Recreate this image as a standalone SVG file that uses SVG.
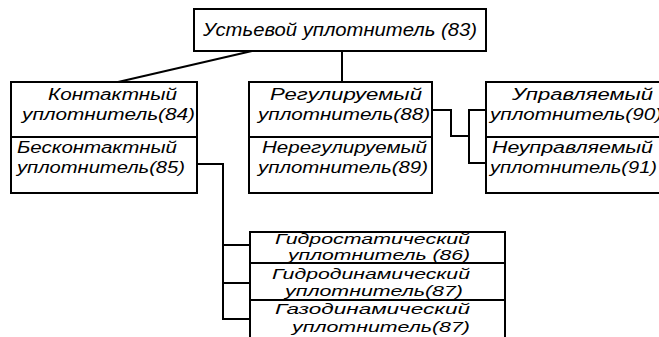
<svg xmlns="http://www.w3.org/2000/svg" width="659" height="337" viewBox="0 0 659 337">
<style>
.box{fill:#fff;stroke:#000;stroke-width:2}
.div{stroke:#000;stroke-width:2}
.con{fill:none;stroke:#000;stroke-width:2}
text{font-family:"Liberation Sans","DejaVu Sans",sans-serif;font-style:italic;font-size:16px;fill:#000}
.s{font-size:14px}
</style>
<rect width="659" height="337" fill="#fff"/>
<g id="connectors">
<line class="con" x1="252" y1="51" x2="118" y2="82"/>
<line class="con" x1="342" y1="51" x2="342" y2="82"/>
<polyline class="con" points="432,110 451,110 451,136 469,136"/>
<polyline class="con" points="486,110 469,110 469,163 486,163"/>
<polyline class="con" points="197,164 223,164 223,319 250,319"/>
<line class="con" x1="223" y1="245" x2="250" y2="245"/>
<line class="con" x1="223" y1="283" x2="250" y2="283"/>
</g>
<g id="n83">
<rect class="box" x="194" y="9" width="292" height="42"/>
<text x="203" y="36" style="font-size:18px" textLength="274" lengthAdjust="spacingAndGlyphs">Устьевой уплотнитель (83)</text>
</g>
<g id="n84">
<rect class="box" x="11" y="82" width="186" height="111"/>
<line class="div" x1="11" y1="137" x2="197" y2="137"/>
<text x="48" y="100" textLength="129" lengthAdjust="spacingAndGlyphs">Контактный</text>
<text x="22" y="120" textLength="173" lengthAdjust="spacingAndGlyphs">уплотнитель(84)</text>
</g>
<g id="n85">
<text x="17" y="153" textLength="160" lengthAdjust="spacingAndGlyphs">Бесконтактный</text>
<text x="17" y="173" textLength="168" lengthAdjust="spacingAndGlyphs">уплотнитель(85)</text>
</g>
<g id="n88">
<rect class="box" x="249" y="82" width="183" height="111"/>
<line class="div" x1="249" y1="137" x2="432" y2="137"/>
<text x="270" y="100" textLength="152" lengthAdjust="spacingAndGlyphs">Регулируемый</text>
<text x="258" y="120" textLength="172" lengthAdjust="spacingAndGlyphs">уплотнитель(88)</text>
</g>
<g id="n89">
<text x="262" y="153" textLength="165" lengthAdjust="spacingAndGlyphs">Нерегулируемый</text>
<text x="258" y="173" textLength="170" lengthAdjust="spacingAndGlyphs">уплотнитель(89)</text>
</g>
<g id="n90">
<rect class="box" x="486" y="82" width="190" height="111"/>
<line class="div" x1="486" y1="137" x2="676" y2="137"/>
<text x="512" y="100" textLength="141" lengthAdjust="spacingAndGlyphs">Управляемый</text>
<text x="490" y="120" textLength="172" lengthAdjust="spacingAndGlyphs">уплотнитель(90)</text>
</g>
<g id="n91">
<text x="492" y="153" textLength="161" lengthAdjust="spacingAndGlyphs">Неуправляемый</text>
<text x="490" y="173" textLength="167" lengthAdjust="spacingAndGlyphs">уплотнитель(91)</text>
</g>
<g id="n86">
<rect class="box" x="250" y="232" width="255" height="120"/>
<line class="div" x1="250" y1="263" x2="505" y2="263"/>
<line class="div" x1="250" y1="300" x2="505" y2="300"/>
<text class="s" x="275" y="244" textLength="195" lengthAdjust="spacingAndGlyphs">Гидростатический</text>
<text class="s" x="288" y="260" textLength="182" lengthAdjust="spacingAndGlyphs">уплотнитель (86)</text>
</g>
<g id="n87a">
<text class="s" x="272" y="279" textLength="198" lengthAdjust="spacingAndGlyphs">Гидродинамический</text>
<text class="s" x="285" y="296" textLength="178" lengthAdjust="spacingAndGlyphs">уплотнитель(87)</text>
</g>
<g id="n87b">
<text class="s" x="275" y="314" textLength="195" lengthAdjust="spacingAndGlyphs">Газодинамический</text>
<text class="s" x="292" y="332" textLength="178" lengthAdjust="spacingAndGlyphs">уплотнитель(87)</text>
</g>
</svg>
